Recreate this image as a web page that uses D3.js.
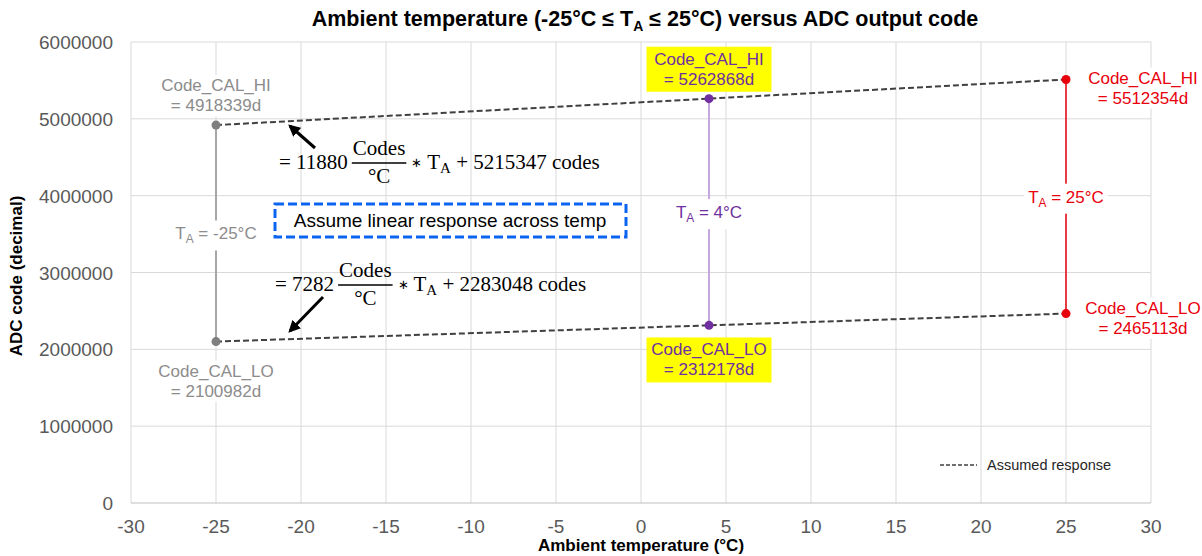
<!DOCTYPE html>
<html lang="en">
<head>
    <meta charset="UTF-8">
    <title>Ambient temperature versus ADC output code</title>
    <script src="https://d3js.org/d3.v7.min.js"></script>
    <style>
        body {
            margin: 0;
            background: #fff;
        }
        #canvas {
            display: block;
            font-family: "Liberation Sans", Arial, sans-serif;
        }
        .tick-label {
            font-size: 19px;
            fill: #595959;
        }
        .axis-title {
            font-size: 17px;
            font-weight: bold;
            fill: #000;
        }
        .eq {
            font-family: "Liberation Serif", "Times New Roman", serif;
            font-size: 21px;
            fill: #000;
        }
    </style>
</head>
<body>
<svg id="canvas" width="1202" height="556">
    <defs>
        <marker id="arrowhead" viewBox="0 0 10 10" refX="8" refY="5"
                markerUnits="strokeWidth" markerWidth="4" markerHeight="4" orient="auto">
            <path d="M 0 0 L 10 5 L 0 10 z" fill="#000"/>
        </marker>
    </defs>
</svg>
<script>
    // calibration temperatures and codes
    const temps = [-25, 4, 25];
    const codeHi = [4918339, 5262868, 5512354];
    const codeLo = [2100982, 2312178, 2465113];
    const seriesNames = ["cold", "mid", "hot"];

    const xTicks = [-30, -25, -20, -15, -10, -5, 0, 5, 10, 15, 20, 25, 30];
    const yTicks = [0, 1000000, 2000000, 3000000, 4000000, 5000000, 6000000];

    // fitted lines
    const slopeHi = 11880, offsetHi = 5215347;
    const slopeLo = 7282, offsetLo = 2283048;

    const W = 1202, H = 556;
    const margin = {top: 42, right: 51, bottom: 53, left: 131};

    const colors = {
        cold: {text: "#8c8c8c", line: "#a6a6a6", dot: "#7f7f7f", width: 2},
        mid: {text: "#7030a0", line: "#c4a8de", dot: "#7030a0", width: 2},
        hot: {text: "#e8000b", line: "#e8000b", dot: "#e8000b", width: 1.5}
    };

    let svg = d3.select("#canvas");

    let x = d3.scaleLinear().domain([-30, 30]).range([margin.left, W - margin.right]);
    let y = d3.scaleLinear().domain([0, 6000000]).range([H - margin.bottom, margin.top]);

    // grid
    let grid = svg.append("g");
    grid.selectAll(".vgrid")
        .data(xTicks)
        .enter().append("line")
        .attr("x1", d => x(d)).attr("x2", d => x(d))
        .attr("y1", y(0)).attr("y2", y(6000000))
        .attr("stroke", "#d9d9d9").attr("stroke-width", 1);
    grid.selectAll(".hgrid")
        .data(yTicks)
        .enter().append("line")
        .attr("x1", x(-30)).attr("x2", x(30))
        .attr("y1", d => y(d)).attr("y2", d => y(d))
        .attr("stroke", d => d === 0 ? "#bfbfbf" : "#d9d9d9").attr("stroke-width", 1);

    // tick labels
    svg.append("g").selectAll("text")
        .data(xTicks)
        .enter().append("text")
        .attr("class", "tick-label")
        .attr("x", d => x(d))
        .attr("y", y(0) + 30)
        .attr("text-anchor", "middle")
        .text(d => d);
    svg.append("g").selectAll("text")
        .data(yTicks)
        .enter().append("text")
        .attr("class", "tick-label")
        .attr("x", x(-30) - 18)
        .attr("y", d => y(d) + 7)
        .attr("text-anchor", "end")
        .text(d => d);

    // titles
    let title = svg.append("text")
        .attr("x", 645).attr("y", 26)
        .attr("text-anchor", "middle")
        .style("font-size", "21.5px").style("font-weight", "bold");
    title.append("tspan").text("Ambient temperature (-25°C ≤ T");
    title.append("tspan").attr("dy", 5).style("font-size", "14px").text("A");
    title.append("tspan").attr("dy", -5).text(" ≤ 25°C) versus ADC output code");

    svg.append("text")
        .attr("class", "axis-title")
        .attr("x", (x(-30) + x(30)) / 2).attr("y", 551)
        .attr("text-anchor", "middle")
        .text("Ambient temperature (°C)");
    svg.append("text")
        .attr("class", "axis-title")
        .attr("transform", "translate(22," + 276 + ") rotate(-90)")
        .attr("text-anchor", "middle")
        .text("ADC code (decimal)");

    // label helper: text lines on a white (or coloured) box
    function label(g, cx, cy, lines, color, bg, size) {
        let lg = g.append("g");
        let rect = lg.append("rect").attr("fill", bg);
        let t = lg.append("text")
            .attr("text-anchor", "middle")
            .style("font-size", size + "px")
            .attr("fill", color);
        let lh = size + 3;
        lines.forEach(function (line, i) {
            let ty = cy + (i - (lines.length - 1) / 2) * lh + size * 0.36;
            if (Array.isArray(line)) {
                // [main, sub, rest]
                t.append("tspan").attr("x", cx).attr("y", ty).text(line[0]);
                t.append("tspan").attr("dy", 4).style("font-size", (size * 0.7) + "px").text(line[1]);
                t.append("tspan").attr("dy", -4).text(line[2]);
            } else {
                t.append("tspan").attr("x", cx).attr("y", ty).text(line);
            }
        });
        let bb = t.node().getBBox();
        return {rect: rect, bb: bb};
    }

    // vertical connectors with T_A label
    let conn = svg.append("g");
    temps.forEach(function (t, i) {
        let c = colors[seriesNames[i]];
        conn.append("line")
            .attr("x1", x(t)).attr("x2", x(t))
            .attr("y1", y(codeHi[i])).attr("y2", y(codeLo[i]))
            .attr("stroke", c.line).attr("stroke-width", c.width);
    });

    // assumed response lines
    let lineGen = d3.line().x((d, i) => x(temps[i])).y(d => y(d));
    [codeHi, codeLo].forEach(function (arr) {
        svg.append("path")
            .datum(arr)
            .attr("d", lineGen)
            .attr("fill", "none")
            .attr("stroke", "#404040")
            .attr("stroke-width", 2)
            .attr("stroke-dasharray", "6,3");
    });

    // dots
    temps.forEach(function (t, i) {
        let c = colors[seriesNames[i]];
        [codeHi[i], codeLo[i]].forEach(function (v) {
            svg.append("circle")
                .attr("cx", x(t)).attr("cy", y(v)).attr("r", 4.5)
                .attr("fill", c.dot);
        });
    });

    // labels
    let labels = svg.append("g");
    function boxed(cx, cy, lines, color, bg, size, padX, padY, fixedW) {
        let r = label(labels, cx, cy, lines, color, bg, size);
        let w = fixedW || (r.bb.width + 2 * padX);
        r.rect.attr("x", cx - w / 2).attr("y", r.bb.y - padY)
            .attr("width", w).attr("height", r.bb.height + 2 * padY);
    }
    temps.forEach(function (t, i) {
        let c = colors[seriesNames[i]];
        let mid = (y(codeHi[i]) + y(codeLo[i])) / 2;
        boxed(x(t), mid, [["T", "A", " = " + t + "°C"]], c.text, "#fff", 17, 4, 4);
    });

    // cold side
    boxed(x(-25), y(codeHi[0]) - 30, ["Code_CAL_HI", "= " + codeHi[0] + "d"], colors.cold.text, "#fff", 17, 2, 1);
    boxed(x(-25), y(codeLo[0]) + 39, ["Code_CAL_LO", "= " + codeLo[0] + "d"], colors.cold.text, "#fff", 17, 2, 1);
    // mid point, yellow boxes
    boxed(x(4), y(codeHi[1]) - 30, ["Code_CAL_HI", "= " + codeHi[1] + "d"], colors.mid.text, "#ffff00", 17, 6, 3, 125);
    boxed(x(4), y(codeLo[1]) + 34, ["Code_CAL_LO", "= " + codeLo[1] + "d"], colors.mid.text, "#ffff00", 17, 6, 3, 125);
    // hot side
    boxed(x(25) + 77, y(codeHi[2]) + 8, ["Code_CAL_HI", "= " + codeHi[2] + "d"], colors.hot.text, "#fff", 17, 2, 1);
    boxed(x(25) + 77, y(codeLo[2]) + 4, ["Code_CAL_LO", "= " + codeLo[2] + "d"], colors.hot.text, "#fff", 17, 2, 1);

    // note box
    svg.append("rect")
        .attr("x", 275).attr("y", 204).attr("width", 351).attr("height", 33)
        .attr("fill", "#fff")
        .attr("stroke", "#0a64f0").attr("stroke-width", 3)
        .attr("stroke-dasharray", "9,4");
    svg.append("text")
        .attr("x", 450).attr("y", 227)
        .attr("text-anchor", "middle")
        .style("font-size", "19px")
        .text("Assume linear response across temp");

    // equations
    function equation(x0, base, slope, offset) {
        let g = svg.append("g").attr("class", "eq");
        let lead = g.append("text").attr("x", x0).attr("y", base).text("= " + slope);
        let lw = lead.node().getComputedTextLength();
        let fx = x0 + lw + 4;
        let num = g.append("text").attr("y", base - 14).attr("text-anchor", "middle").text("Codes");
        let nw = num.node().getComputedTextLength();
        num.attr("x", fx + nw / 2 + 1);
        g.append("text").attr("x", fx + nw / 2 + 1).attr("y", base + 14).attr("text-anchor", "middle").text("°C");
        g.append("line")
            .attr("x1", fx).attr("x2", fx + nw + 2)
            .attr("y1", base - 6).attr("y2", base - 6)
            .attr("stroke", "#000").attr("stroke-width", 1.5);
        let rest = g.append("text").attr("x", fx + nw + 7).attr("y", base);
        rest.append("tspan").style("font-size", "13px").attr("dy", -2).text("∗");
        rest.append("tspan").attr("dy", 2).text(" T");
        rest.append("tspan").attr("dy", 4).style("font-size", "15px").text("A");
        rest.append("tspan").attr("dy", -4).text(" + " + offset + " codes");
    }
    equation(279, 169, slopeHi, offsetHi);
    equation(275, 291, slopeLo, offsetLo);

    // arrows
    let arrows = [
        {from: [315, 148], to: [290, 126]},
        {from: [323, 297], to: [290, 331]}
    ];
    svg.append("g").selectAll("line")
        .data(arrows)
        .enter().append("line")
        .attr("x1", d => d.from[0]).attr("y1", d => d.from[1])
        .attr("x2", d => d.to[0]).attr("y2", d => d.to[1])
        .attr("stroke", "#000").attr("stroke-width", 3)
        .attr("marker-end", "url(#arrowhead)");

    // legend
    svg.append("line")
        .attr("x1", 940).attr("x2", 977).attr("y1", 465).attr("y2", 465)
        .attr("stroke", "#404040").attr("stroke-width", 1.5)
        .attr("stroke-dasharray", "4,2");
    svg.append("text")
        .attr("x", 987).attr("y", 470)
        .style("font-size", "14.5px")
        .attr("fill", "#262626")
        .text("Assumed response");
</script>
</body>
</html>
